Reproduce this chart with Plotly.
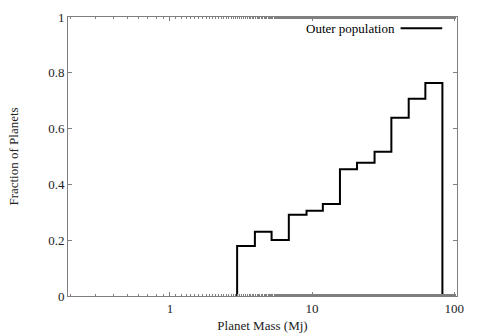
import numpy as np
from plotly import graph_objects as go

# bin edges (Mj) and fraction of planets per bin
bin_edges = [2.97, 3.96, 5.19, 6.86, 9.14, 11.9, 15.7, 20.7, 27.5, 36.1, 47.8, 62.6, 82.5]
fractions = [0.179, 0.230, 0.201, 0.291, 0.306, 0.330, 0.454, 0.478, 0.517, 0.639, 0.707, 0.763]
series_name = "Outer population"

y_ticks = [0, 0.2, 0.4, 0.6, 0.8, 1]
y_tick_text = ["0", "0.2", "0.4", "0.6", "0.8", "1"]
x_ticks = [1, 10, 100]
x_tick_text = ["1", "10", "100"]

FONT = "Liberation Serif, Times New Roman, serif"
AXIS_COLOR = "#7f7f7f"

# outline of the histogram: rise at the first edge, steps, drop at the last
step_x = [bin_edges[0]] + bin_edges
step_y = [0] + fractions + [0]

fig = go.Figure()
fig.add_trace(
    go.Scatter(
        x=step_x,
        y=step_y,
        mode="lines",
        line=dict(shape="hv", color="black", width=2),
        name=series_name,
        showlegend=False,
    )
)

# gnuplot-style legend: text on the left, line sample on the right
fig.add_annotation(
    x=0.845, y=0.96, xref="paper", yref="paper",
    text=series_name, showarrow=False,
    xanchor="right", yanchor="middle",
    font=dict(family=FONT, size=13, color="black"),
)
fig.add_shape(
    type="line", xref="paper", yref="paper",
    x0=0.855, x1=0.962, y0=0.96, y1=0.96,
    line=dict(color="black", width=2),
)

fig.update_layout(
    width=480,
    height=336,
    margin=dict(l=68, r=23, t=17, b=40),
    paper_bgcolor="white",
    plot_bgcolor="white",
    font=dict(family=FONT, size=13, color="#222"),
    xaxis=dict(
        type="log",
        range=[np.log10(0.192), np.log10(104.5)],
        tickvals=x_ticks,
        ticktext=x_tick_text,
        ticks="inside",
        ticklen=4,
        tickcolor=AXIS_COLOR,
        minor=dict(ticks="inside", ticklen=2, tickcolor=AXIS_COLOR, showgrid=False),
        showgrid=False,
        zeroline=False,
        showline=True,
        linecolor=AXIS_COLOR,
        linewidth=1,
        mirror="ticks",
        automargin=False,
        title=dict(text="Planet Mass (Mj)", standoff=6, font=dict(size=13)),
    ),
    yaxis=dict(
        range=[0, 1],
        tickvals=y_ticks,
        ticktext=y_tick_text,
        ticks="inside",
        ticklen=4,
        tickcolor=AXIS_COLOR,
        showgrid=False,
        zeroline=False,
        showline=True,
        linecolor=AXIS_COLOR,
        linewidth=1,
        mirror="ticks",
        automargin=False,
        title=dict(text="Fraction of Planets", standoff=26, font=dict(size=13)),
    ),
)

fig.write_html(
    "out.html",
    config={"displayModeBar": False},
    post_script="document.body.style.margin = '0';",
)
